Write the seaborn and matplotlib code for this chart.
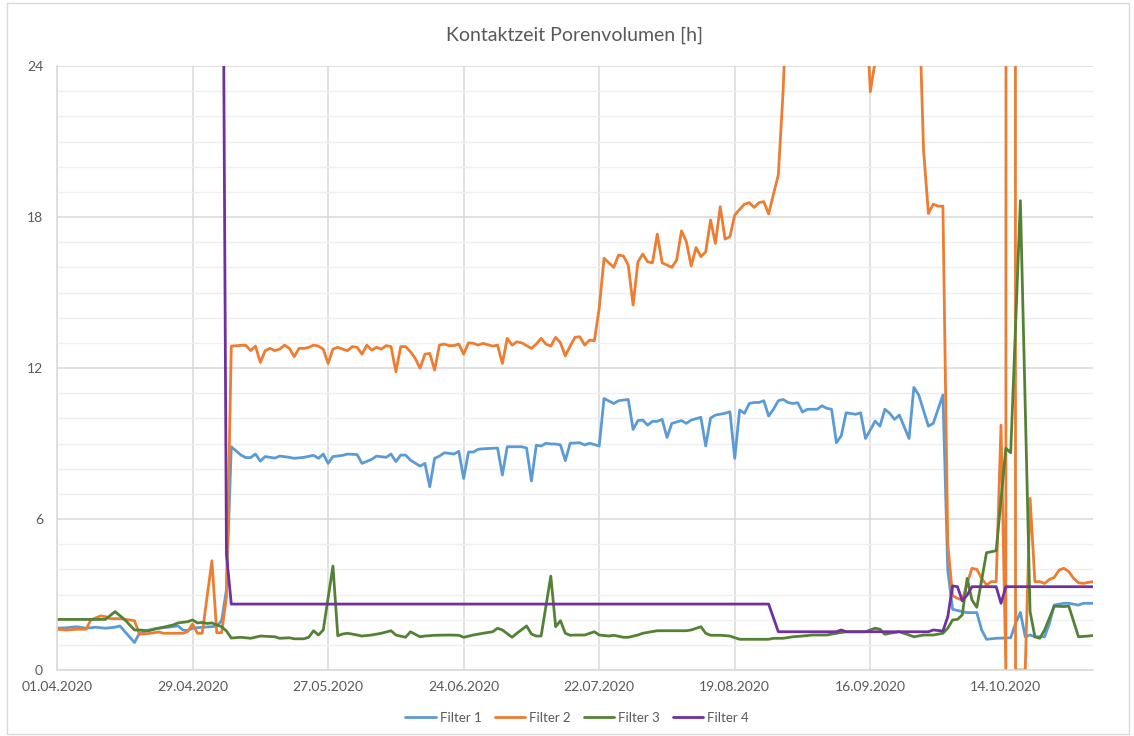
import matplotlib
matplotlib.use("Agg")
import matplotlib.pyplot as plt
import matplotlib.dates as mdates
from matplotlib.ticker import MultipleLocator
from matplotlib.patches import Rectangle
import seaborn as sns
import pandas as pd

start = pd.Timestamp("2020-04-01")

# days after 01.04.2020 and contact time [h] per filter
f1_days = [0, 2, 4, 6, 8, 10, 12, 13, 16, 17, 19, 21, 23, 25, 26, 27, 28, 30, 32, 33, 34, 35,
           36, 38, 39, 40, 41, 42, 43, 45, 46, 48, 49, 51, 53, 54, 55, 56, 57, 59, 60, 62, 63,
           65, 66, 68, 69, 70, 71, 72, 73, 75, 76, 77, 78, 79, 80, 81, 82, 83, 84, 85, 86, 87,
           88, 91, 92, 93, 96, 97, 98, 99, 100, 101, 102, 103, 104, 105, 106, 108, 109, 110,
           112, 113, 115, 116, 118, 119, 120, 121, 122, 123, 124, 125, 126, 127, 129, 130, 131,
           133, 134, 135, 136, 138, 139, 140, 141, 142, 143, 144, 145, 146, 147, 148, 149, 150,
           151, 152, 153, 154, 155, 157, 158, 159, 160, 161, 162, 163, 165, 166, 167, 168, 169,
           170, 171, 172, 173, 174, 176, 177, 178, 180, 181, 183, 184, 185, 187, 188, 190, 191,
           192, 194, 197, 198, 199, 200, 201, 202, 204, 205, 206, 208, 209, 211, 212, 214]
f1_vals = [1.66, 1.68, 1.72, 1.66, 1.70, 1.66, 1.70, 1.75, 1.09, 1.45, 1.59, 1.66, 1.70, 1.75,
           1.59, 1.56, 1.66, 1.70, 1.72, 1.75, 1.95, 3.2,
           8.87, 8.54, 8.44, 8.44, 8.58, 8.30, 8.48, 8.42, 8.50, 8.45, 8.41, 8.45, 8.53, 8.41,
           8.58, 8.21, 8.48, 8.53, 8.58, 8.56, 8.21,
           8.37, 8.50, 8.45, 8.58, 8.28, 8.54, 8.54, 8.34, 8.10, 8.21, 7.28, 8.41, 8.50, 8.63,
           8.61, 8.58, 8.69, 7.61, 8.66, 8.66, 8.77,
           8.79, 8.82, 7.75, 8.87, 8.87, 8.82, 7.51, 8.93, 8.90, 9.01, 8.98, 8.98, 8.94, 8.32,
           9.01, 9.03, 8.94, 9.01,
           8.90, 10.79, 10.59, 10.70, 10.75, 9.56, 9.91, 9.93, 9.73, 9.88, 9.88, 9.96, 9.24,
           9.80, 9.91, 9.80, 9.93,
           10.04, 8.90, 10.01, 10.13, 10.20, 10.26, 8.41, 10.33, 10.20, 10.59, 10.63, 10.63,
           10.70, 10.09, 10.36, 10.70, 10.75,
           10.63, 10.59, 10.62, 10.25, 10.36, 10.36, 10.50, 10.40, 10.36, 9.03, 9.31, 10.22,
           10.16, 10.22, 9.20, 9.54, 9.89,
           9.69, 10.36, 10.20, 9.96, 10.13, 9.20, 11.23, 10.93, 9.69, 9.80, 10.93, 3.97, 2.41,
           2.32, 2.28, 2.28, 1.59,
           1.22, 1.26, 1.28, 1.85, 2.29, 1.32, 1.39, 1.32, 1.32, 1.85, 2.58, 2.65, 2.65, 2.58,
           2.65, 2.65]

f2_days = [0, 2, 4, 6, 7, 9, 10, 11, 13, 15, 16, 17, 18, 20, 21, 22, 25, 26, 27, 28, 29, 30,
           32, 33, 34, 35,
           36, 38, 39, 40, 41, 42, 43, 44, 45, 46, 47, 48, 49, 50, 51, 52, 53, 54, 55, 56, 57,
           58, 59, 60, 61, 62, 63, 64, 65, 66, 67, 68, 69, 70, 71, 72, 73, 74, 75, 76, 77, 78,
           79, 80, 81, 82, 83, 84, 85, 86, 87, 88, 90, 91, 92, 93, 94, 95, 96, 98, 99, 100,
           101, 102, 103, 104, 105, 106, 107, 108, 109, 110, 111, 112, 113, 114, 115, 116,
           117, 118, 119, 120, 121, 122, 123, 124, 125, 126, 127, 128, 129, 130, 131, 132,
           133, 134, 135, 136, 137, 138, 139, 140, 141, 142, 143, 144, 145, 146, 147, 148,
           149, 150, 151, 155, 160, 165, 167, 168, 169, 170, 174, 177, 178, 179, 180, 181,
           182, 183, 184, 185, 186, 187, 188, 189, 190, 191, 192, 193, 194, 195, 196, 197,
           198, 199, 200, 201, 202, 203, 204, 205, 206, 207, 208, 209, 210, 211, 212, 213, 214]
f2_vals = [1.62, 1.59, 1.62, 1.62, 1.99, 2.15, 2.12, 2.04, 2.04, 1.99, 1.96, 1.43, 1.43, 1.48,
           1.51, 1.46, 1.46, 1.46, 1.53, 1.83, 1.46, 1.46, 4.34, 1.48, 1.48, 2.9,
           12.87, 12.90, 12.90, 12.69, 12.87, 12.22, 12.69, 12.78, 12.69, 12.75, 12.91, 12.78,
           12.45, 12.78, 12.78, 12.82, 12.91, 12.87, 12.75, 12.18, 12.75, 12.82, 12.75, 12.69,
           12.85, 12.82, 12.55, 12.91, 12.71, 12.82, 12.75, 12.89, 12.85, 11.85, 12.85, 12.85,
           12.65, 12.38, 11.99, 12.55, 12.58, 11.92, 12.91, 12.95, 12.89, 12.89, 12.95, 12.55,
           13.0, 12.98, 12.91, 12.98, 12.87, 12.91, 12.18, 13.18, 12.91, 13.04, 13.0, 12.78,
           12.95, 13.18, 12.95, 12.87, 13.22, 13.0, 12.48, 12.87, 13.22, 13.24, 12.91, 13.11,
           13.08, 14.37, 16.36, 16.18, 16.0, 16.49, 16.45, 16.09, 14.50, 16.22, 16.53, 16.22,
           16.18, 17.32, 16.18, 16.09, 16.0, 16.29, 17.45, 17.02, 16.05, 16.79, 16.42, 16.62,
           17.88, 16.95, 18.41, 17.12, 17.22, 18.08, 18.30, 18.51, 18.57, 18.38, 18.57, 18.61,
           18.12, 18.91, 19.67, 23.04, 28.0, 31.0, 30.0, 29.0, 27.0, 22.98, 24.2, 30.0, 32.0,
           30.0, 27.0, 20.66, 18.14, 18.51, 18.43, 18.43, 5.0, 2.95, 2.85, 2.78, 3.44, 4.04,
           4.0, 3.64, 3.38, 3.51, 3.51, 9.73, 0.0, 1000.0, 0.0, 0.0, 0.0, 6.82, 3.51, 3.51,
           3.44, 3.60, 3.68, 3.97, 4.04, 3.91, 3.64, 3.47, 3.44, 3.48, 3.51]

f3_days = [0, 10, 12, 14, 16, 17, 19, 20, 22, 24, 25, 27, 28, 29, 30, 31, 32, 33, 34, 35, 36,
           38, 40, 42, 45, 46, 48, 49, 51, 52, 53, 54, 55, 57, 58, 59, 60, 62, 63, 65, 67, 69,
           70, 72, 73, 75, 76, 78, 81, 83, 84, 86, 88, 90, 91, 92, 94, 95, 97, 98, 99, 100,
           102, 103, 104, 105, 106, 107, 109, 111, 112, 114, 115, 117, 118, 120, 121, 124, 127,
           130, 131, 133, 134, 135, 137, 139, 141, 144, 147, 148, 150, 152, 154, 156, 159, 161,
           163, 165, 167, 169, 170, 171, 172, 174, 176, 177, 179, 181, 183, 184, 185, 186, 187,
           188, 189, 190, 192, 194, 196, 197, 199, 201, 202, 203, 204, 206, 208, 209, 211, 213,
           214]
f3_vals = [2.01, 2.01, 2.32, 2.0, 1.59, 1.59, 1.56, 1.62, 1.70, 1.79, 1.87, 1.92, 1.99, 1.87,
           1.89, 1.85, 1.87, 1.79, 1.72, 1.55, 1.27,
           1.30, 1.26, 1.35, 1.32, 1.26, 1.28, 1.24, 1.24, 1.30, 1.56, 1.39, 1.59, 4.13, 1.36,
           1.43, 1.46, 1.39, 1.35, 1.39, 1.46, 1.56,
           1.39, 1.30, 1.52, 1.32, 1.35, 1.38, 1.39, 1.38, 1.30, 1.39, 1.46, 1.52, 1.66, 1.59,
           1.30, 1.46, 1.75, 1.43, 1.35, 1.35,
           3.73, 1.72, 1.96, 1.46, 1.38, 1.39, 1.39, 1.52, 1.39, 1.35, 1.38, 1.30, 1.30, 1.39,
           1.46, 1.56, 1.56,
           1.56, 1.59, 1.72, 1.46, 1.38, 1.38, 1.35, 1.22, 1.22, 1.22, 1.26, 1.26, 1.32, 1.35,
           1.39, 1.39, 1.46,
           1.52, 1.52, 1.52, 1.66, 1.62, 1.42, 1.46, 1.52, 1.39, 1.32, 1.39, 1.39, 1.46, 1.66,
           1.99, 2.01, 2.19,
           3.64, 2.78, 2.49, 4.66, 4.74, 8.81, 8.63, 18.65, 2.32, 1.32, 1.26, 1.59, 2.54, 2.52,
           2.54, 1.32, 1.35,
           1.37]

f4_days = [34, 35, 36, 147, 149, 161, 162, 163, 180, 181, 183, 184, 185, 186, 187, 188, 189,
           194, 195, 196, 214]
f4_vals = [40.0, 4.6, 2.62, 2.62, 1.52, 1.52, 1.59, 1.52, 1.52, 1.59, 1.55, 2.12, 3.34, 3.31,
           2.75, 2.98, 3.31, 3.31, 2.65, 3.31, 3.31]

series_names = ["Filter 1", "Filter 2", "Filter 3", "Filter 4"]
series_colors = ["#5B9BD5", "#ED7D31", "#548235", "#7030A0"]
y_ticks = [0, 6, 12, 18, 24]
x_tick_days = [0, 28, 56, 84, 112, 140, 168, 196]
x_end_day = 214
title = "Kontaktzeit Porenvolumen [h]"

frames = []
for name, days, vals in zip(series_names,
                            [f1_days, f2_days, f3_days, f4_days],
                            [f1_vals, f2_vals, f3_vals, f4_vals]):
    frames.append(pd.DataFrame({
        "date": start + pd.to_timedelta(days, unit="D"),
        "value": vals,
        "series": name,
    }))
df = pd.concat(frames, ignore_index=True)

sns.set_theme(style="white")
plt.rcParams["font.family"] = ["Lato", "DejaVu Sans"]
text_color = "#595959"
grid_color = "#d9d9d9"

fig = plt.figure(figsize=(11.34, 7.36), dpi=100)
ax = fig.add_axes([57 / 1134, 1 - 670 / 736, (1093 - 57) / 1134, (670 - 66) / 736])

sns.lineplot(data=df, x="date", y="value", hue="series", hue_order=series_names,
             palette=dict(zip(series_names, series_colors)), linewidth=2.0,
             estimator=None, sort=True, ax=ax)

ax.set_ylim(0, 24)
ax.set_xlim(start, start + pd.Timedelta(days=x_end_day))
ax.set_yticks(y_ticks)
ax.yaxis.set_minor_locator(MultipleLocator(1))
ax.set_xticks([start + pd.Timedelta(days=d) for d in x_tick_days])
ax.xaxis.set_major_formatter(mdates.DateFormatter("%d.%m.%Y"))

ax.grid(True, which="major", axis="both", color=grid_color, linewidth=1.1)
ax.grid(True, which="minor", axis="y", color="#efefef", linewidth=1.0)
ax.set_axisbelow(True)

ax.tick_params(axis="both", which="both", length=0, colors=text_color, labelsize=10)
ax.tick_params(axis="y", pad=10)
ax.tick_params(axis="x", pad=8)
ax.set_xlabel("")
ax.set_ylabel("")

for side in ["top", "right"]:
    ax.spines[side].set_visible(False)
for side in ["left", "bottom"]:
    ax.spines[side].set_color(grid_color)
    ax.spines[side].set_linewidth(1.1)

sns.move_legend(ax, "center", bbox_to_anchor=(0.509, 0.025), bbox_transform=fig.transFigure,
                ncol=4, frameon=False, title=None, fontsize=9.5, handlelength=2.3,
                columnspacing=1.0, handletextpad=0.3)
for t in ax.get_legend().get_texts():
    t.set_color(text_color)

fig.text(0.507, 0.952, title, ha="center", va="center", fontsize=14, color=text_color)

fig.patches.append(Rectangle((7 / 1134, 2 / 736), 1122 / 1134, 731 / 736,
                             transform=fig.transFigure, fill=False,
                             edgecolor=grid_color, linewidth=1.0))

fig.savefig("out.png", dpi=100)
